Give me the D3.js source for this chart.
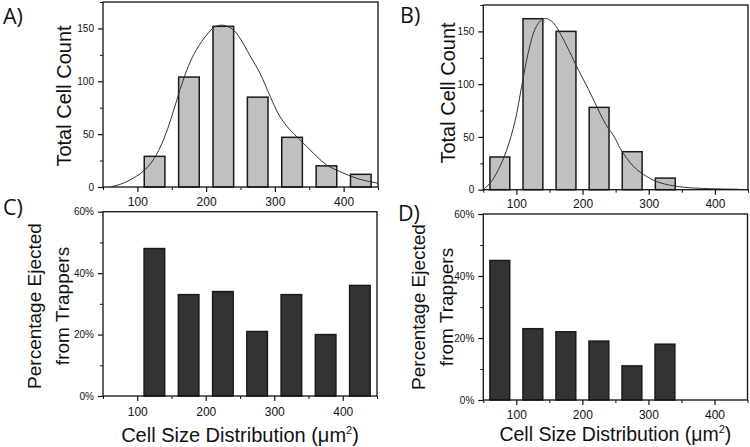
<!DOCTYPE html>
<html>
<head>
<meta charset="utf-8">
<script src="https://cdn.jsdelivr.net/npm/d3@7"></script>
<style>
  html, body { margin: 0; padding: 0; background: #fff; }
  svg { display: block; }
  text { font-family: "Liberation Sans", Arial, sans-serif; fill: #111; }
  .panel-label { font-family: "Open Sans", "Noto Sans", sans-serif; font-size: 21.5px; }
</style>
</head>
<body>
<svg id="chart" width="750" height="447"></svg>
<script>
// ---------------- data ----------------
const xTicks = [100, 200, 300, 400];
const xMinorTicks = [50, 150, 250, 350, 450];
const countTicks = [0, 50, 100, 150];
const countMinorTicks = [25, 75, 125, 175];
const pctTicks = [0, 0.2, 0.4, 0.6];
const pctMinorTicks = [0.1, 0.3, 0.5];

const binsA = [125, 175, 225, 275, 325, 375, 425];
const countsA = [29, 104, 152, 85, 47, 20, 12];
const binsB = [75, 125, 175, 225, 275, 325];
const countsB = [31, 162, 150, 78, 36, 11];

const binsC = [125, 175, 225, 275, 325, 375, 425];
const pctC = [0.48, 0.33, 0.34, 0.21, 0.33, 0.20, 0.36];
const binsD = [75, 125, 175, 225, 275, 325];
const pctD = [0.45, 0.23, 0.22, 0.19, 0.11, 0.18];

// fitted curves: [size, count]
const fitA = [[62,0.4],[75,2.5],[89,6.6],[108,14.5],[123,25.6],[138,44.6],[150,66.8],[162,92],
  [174,114],[186,130],[201,144],[213,151.6],[225,153],[239,149],[249,141],[264,124],[278,108],
  [293,86],[307,67],[322,54],[336,45],[356,32],[375,21],[395,14.5],[419,8.2],[450,3.5]];
const fitB = [[50,0.4],[60,6],[72,18],[85,37],[98,65],[108,98],[118,130],[128,152],[138,161],
  [146,162],[156,158],[168,146],[184,126],[194,113],[209,95],[222,78],[235,62],[249,49],
  [257,39],[277,22],[297,12.5],[317,6.6],[347,2.8],[378,1.3],[435,0.4]];

const binWidth = 30;

// ---------------- drawing ----------------
const svg = d3.select("#chart");

function drawPanel(cfg) {
  const x = d3.scaleLinear().domain([50, 450]).range([cfg.left, cfg.right]);
  const y = d3.scaleLinear().domain(cfg.yDomain).range([cfg.bottom, cfg.top]);
  const g = svg.append("g");

  // bars
  g.selectAll("rect.bar").data(cfg.bins.map((b, i) => ({ b, v: cfg.values[i] })))
    .enter().append("rect")
    .attr("x", d => x(d.b - binWidth / 2))
    .attr("width", d => x(d.b + binWidth / 2) - x(d.b - binWidth / 2))
    .attr("y", d => y(d.v))
    .attr("height", d => y(0) - y(d.v))
    .attr("fill", cfg.barFill)
    .attr("stroke", "#1a1a1a")
    .attr("stroke-width", 1.5);

  // fit curve
  if (cfg.fit) {
    const clipId = "clip" + cfg.name;
    svg.append("clipPath").attr("id", clipId).append("rect")
      .attr("x", cfg.left).attr("y", cfg.top)
      .attr("width", cfg.right - cfg.left).attr("height", cfg.bottom - cfg.top);
    g.append("path")
      .datum(cfg.fit)
      .attr("clip-path", `url(#${clipId})`)
      .attr("fill", "none")
      .attr("stroke", "#333")
      .attr("stroke-width", 1)
      .attr("d", d3.line().x(d => x(d[0])).y(d => y(d[1])).curve(d3.curveCatmullRom));
  }

  // minor ticks
  const xMinor = d3.axisBottom(x).tickValues(xMinorTicks).tickSize(3).tickFormat("");
  g.append("g").attr("transform", `translate(0,${cfg.bottom})`).call(xMinor)
    .call(a => a.select(".domain").remove())
    .call(a => a.selectAll("line").attr("stroke", "#111"));
  const yMinor = d3.axisLeft(y).tickValues(cfg.yMinor).tickSize(3).tickFormat("");
  g.append("g").attr("transform", `translate(${cfg.left},0)`).call(yMinor)
    .call(a => a.select(".domain").remove())
    .call(a => a.selectAll("line").attr("stroke", "#111"));

  // major axes
  const xAxis = d3.axisBottom(x).tickValues(xTicks).tickSize(5).tickPadding(cfg.xPad);
  g.append("g").attr("transform", `translate(0,${cfg.bottom})`).call(xAxis)
    .call(a => a.select(".domain").remove())
    .call(a => a.selectAll("line").attr("stroke", "#111").attr("stroke-width", 1.2))
    .call(a => a.selectAll("text").attr("font-size", 12).attr("font-family", "Liberation Sans, Arial, sans-serif").attr("fill", "#111"));
  const yAxis = d3.axisLeft(y).tickValues(cfg.yTicks).tickSize(5).tickPadding(4).tickFormat(cfg.yFormat);
  g.append("g").attr("transform", `translate(${cfg.left},0)`).call(yAxis)
    .call(a => a.select(".domain").remove())
    .call(a => a.selectAll("line").attr("stroke", "#111").attr("stroke-width", 1.2))
    .call(a => a.selectAll("text").attr("font-size", 10).attr("font-family", "Liberation Sans, Arial, sans-serif").attr("fill", "#111"));

  // frame
  g.append("rect")
    .attr("x", cfg.left).attr("y", cfg.top)
    .attr("width", cfg.right - cfg.left).attr("height", cfg.bottom - cfg.top)
    .attr("fill", "none").attr("stroke", "#111").attr("stroke-width", 1.3);

  // y title
  const yt = g.append("text")
    .attr("transform", `translate(${cfg.yTitleX},${cfg.yTitleY}) rotate(-90)`)
    .attr("text-anchor", "middle")
    .attr("font-size", cfg.yTitleSize);
  if (cfg.yTitle.length === 1) {
    yt.text(cfg.yTitle[0]);
  } else {
    cfg.yTitle.forEach((t, i) => {
      yt.append("tspan").attr("x", 0).attr("dy", i === 0 ? 0 : cfg.yTitleLine).text(t);
    });
  }

  // x title
  if (cfg.xTitleY) {
    const xt = g.append("text")
      .attr("x", (cfg.left + cfg.right) / 2)
      .attr("y", cfg.xTitleY)
      .attr("text-anchor", "middle")
      .attr("font-size", cfg.xTitleSize);
    xt.append("tspan").text("Cell Size Distribution (\u03bcm");
    xt.append("tspan").attr("font-size", 11).attr("dy", -8.5).text("2");
    xt.append("tspan").attr("dy", 8.5).text(")");
  }

  // panel label
  svg.append("text").attr("class", "panel-label")
    .attr("x", cfg.labelX).attr("y", cfg.labelY).text(cfg.label);
}

drawPanel({
  name: "A", label: "A)", labelX: 3, labelY: 24,
  left: 103, right: 378, top: 2, bottom: 187,
  yDomain: [0, 175], yTicks: countTicks, yMinor: countMinorTicks, yFormat: d3.format("d"),
  bins: binsA, values: countsA, barFill: "#c0c0c0", fit: fitA,
  xPad: 5,
  yTitle: ["Total Cell Count"], yTitleX: 71, yTitleY: 96, yTitleSize: 20
});
drawPanel({
  name: "B", label: "B)", labelX: 400, labelY: 23,
  left: 483.3, right: 748, top: 5, bottom: 189.7,
  yDomain: [0, 175], yTicks: countTicks, yMinor: countMinorTicks, yFormat: d3.format("d"),
  bins: binsB, values: countsB, barFill: "#c0c0c0", fit: fitB,
  xPad: 5,
  yTitle: ["Total Cell Count"], yTitleX: 455, yTitleY: 93, yTitleSize: 20
});
drawPanel({
  name: "C", label: "C)", labelX: 3, labelY: 215,
  left: 103, right: 377, top: 211.7, bottom: 396,
  yDomain: [0, 0.6], yTicks: pctTicks, yMinor: pctMinorTicks, yFormat: d3.format(".0%"),
  bins: binsC, values: pctC, barFill: "#333333", fit: null,
  xPad: 6,
  yTitle: ["Percentage Ejected", "from Trappers"], yTitleX: 41, yTitleY: 306, yTitleSize: 19, yTitleLine: 28,
  xTitleY: 442, xTitleSize: 20
});
drawPanel({
  name: "D", label: "D)", labelX: 398, labelY: 221,
  left: 483.3, right: 747.5, top: 214, bottom: 400,
  yDomain: [0, 0.6], yTicks: pctTicks, yMinor: pctMinorTicks, yFormat: d3.format(".0%"),
  bins: binsD, values: pctD, barFill: "#333333", fit: null,
  xPad: 5,
  yTitle: ["Percentage Ejected", "from Trappers"], yTitleX: 425, yTitleY: 307, yTitleSize: 19, yTitleLine: 28,
  xTitleY: 441, xTitleSize: 19.5
});
</script>
</body>
</html>
